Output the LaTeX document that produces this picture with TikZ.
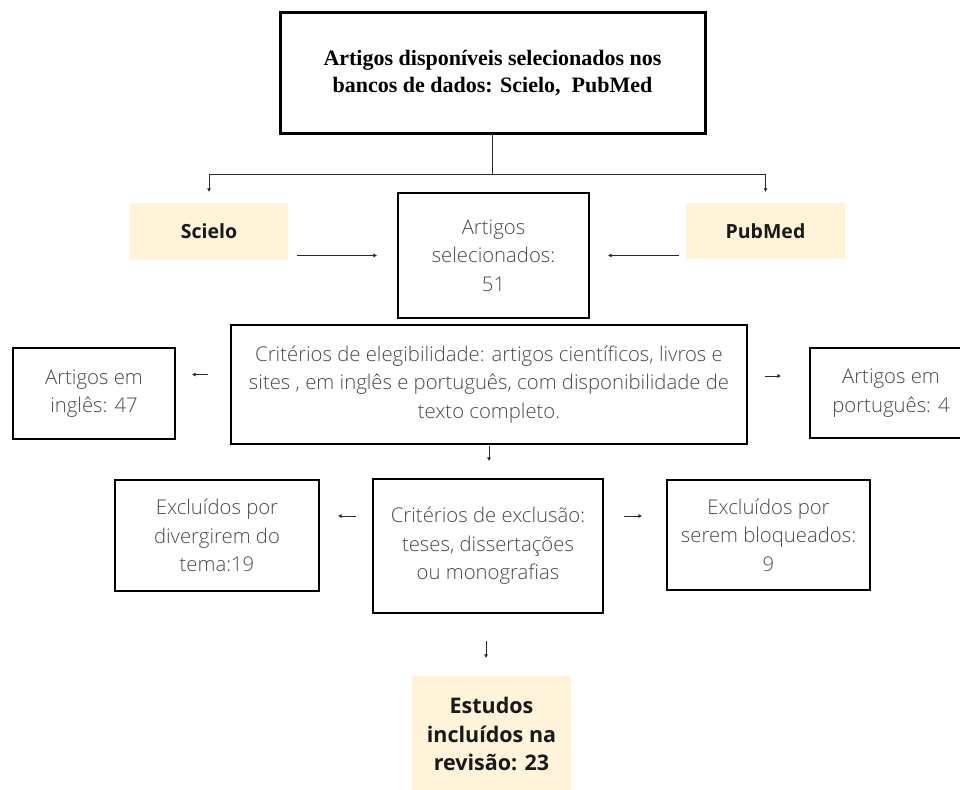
\documentclass[tikz,border=0pt]{standalone}
\usepackage{fontspec}
\usepackage{xcolor}
\usepackage{tikz}
\usetikzlibrary{arrows.meta,positioning,calc}
\setmainfont{Open Sans}
\IfFontExistsTF{Open Sans Light}{\newfontfamily\lightfont{Open Sans Light}}{\newfontfamily\lightfont{Open Sans}}
\newfontfamily\timesfont{Liberation Serif}
\definecolor{revyellow}{HTML}{FFF4D9}
\definecolor{revtext}{HTML}{4A4A4A}
\definecolor{revline}{HTML}{2B2B2B}
\tikzset{
  titlebox/.style={draw=black, line width=3pt, align=center, minimum width=425pt, minimum height=120pt, font=\timesfont\bfseries\fontsize{22}{27}\selectfont},
  stagebox/.style={draw=black, line width=2.2pt, align=center, text=revtext, font=\lightfont\fontsize{20.3}{28.5}\selectfont},
  sourcebox/.style={fill=revyellow, align=center, text=black!90, font=\bfseries\fontsize{19.5}{28}\selectfont},
  arrow/.style={-{Triangle[length=3.5pt,width=3.5pt]}, line width=0.9pt, draw=revline}
}

\begin{document}
\begin{tikzpicture}[x=1pt, y=-1pt]
  \useasboundingbox (0,0) rectangle (960,789);

  \node[titlebox] (base) at (492.5,73) {Artigos disponíveis selecionados nos\\bancos de dados: Scielo,\ \ PubMed};
  \node[sourcebox, minimum width=158pt, minimum height=57pt] (scielo) at (209,231.5) {Scielo};
  \node[sourcebox, minimum width=159pt, minimum height=56pt] (pubmed) at (765.5,231) {PubMed};
  \node[stagebox, minimum width=191pt, minimum height=125pt] (selected) at (493.5,255.5) {Artigos\\selecionados:\\51};
  \node[stagebox, minimum width=516pt, minimum height=119pt] (eligible) at (489,384.5) {Critérios de elegibilidade: artigos científicos, livros e\\sites , em inglês e português, com disponibilidade de\\texto completo.};
  \node[stagebox, minimum width=162pt, minimum height=91pt] (english) at (94,393.5) {Artigos em\\inglês: 47};
  \node[stagebox, minimum width=162pt, minimum height=90pt] (portuguese) at (891,393) {Artigos em\\português: 4};
  \node[stagebox, minimum width=230pt, minimum height=134pt] (exclusion) at (488,546) {Critérios de exclusão:\\teses, dissertações\\ou monografias};
  \node[stagebox, minimum width=204pt, minimum height=111pt] (offtopic) at (217,535.5) {Excluídos por\\divergirem do\\tema:19};
  \node[stagebox, minimum width=203pt, minimum height=110pt] (blocked) at (768.5,535) {Excluídos por\\serem bloqueados:\\9};
  \node[sourcebox, minimum width=159pt, minimum height=116pt, font=\bfseries\fontsize{21.5}{28.5}\selectfont] (included) at (491.5,734) {Estudos\\incluídos na\\revisão: 23};

  % split from the databases box
  \draw[line width=0.9pt, draw=revline] (base.south) -- ++(0,40) coordinate (split);
  \draw[arrow, shorten >=11pt] (split) -| (scielo.north);
  \draw[arrow, shorten >=11pt] (split) -| (pubmed.north);

  \draw[arrow, shorten <=9pt, shorten >=20pt] (scielo.east |- selected.west) -- (selected.west);
  \draw[arrow, shorten <=7pt, shorten >=18pt] (pubmed.west |- selected.east) -- (selected.east);

  \draw[arrow, shorten <=22pt, shorten >=16pt] ([yshift=10pt]eligible.west) -- ([yshift=10pt]eligible.west -| english.east);
  \draw[arrow, shorten <=17pt, shorten >=28pt] ([yshift=8.5pt]eligible.east) -- ([yshift=8.5pt]eligible.east -| portuguese.west);
  \draw[arrow, shorten <=1pt, shorten >=17pt] (eligible.south) -- (eligible.south |- exclusion.north);

  \draw[arrow, shorten <=16pt, shorten >=18pt] ([yshift=30pt]exclusion.west) -- ([yshift=30pt]exclusion.west -| offtopic.east);
  \draw[arrow, shorten <=20pt, shorten >=24pt] ([yshift=30pt]exclusion.east) -- ([yshift=30pt]exclusion.east -| blocked.west);
  \draw[arrow, shorten <=27pt, shorten >=18pt] ([xshift=-2pt]exclusion.south) -- ([xshift=-2pt]exclusion.south |- included.north);
\end{tikzpicture}
\end{document}
